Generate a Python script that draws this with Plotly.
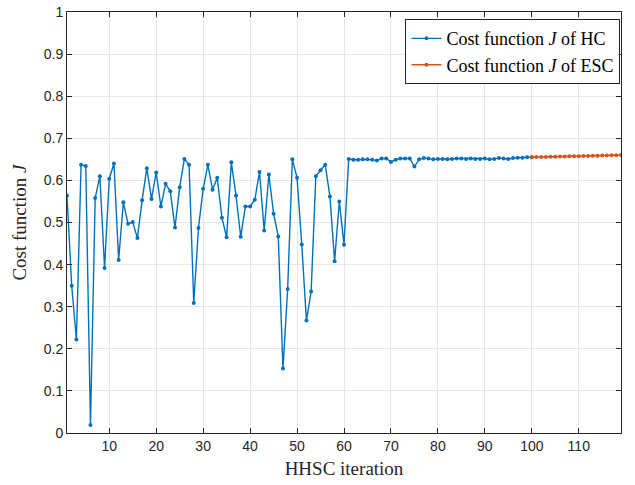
import plotly.graph_objects as go

# Hill-climbing (HC) cost per HHSC iteration
hc_iter = list(range(1, 101))
hc_cost = [
    0.564, 0.350, 0.222, 0.637, 0.634, 0.019, 0.558, 0.610, 0.392, 0.604,
    0.640, 0.411, 0.548, 0.497, 0.501, 0.463, 0.553, 0.629, 0.556, 0.619,
    0.538, 0.592, 0.574, 0.488, 0.584, 0.651, 0.637, 0.309, 0.487, 0.580,
    0.637, 0.578, 0.606, 0.511, 0.465, 0.643, 0.564, 0.466, 0.538, 0.538,
    0.554, 0.620, 0.481, 0.614, 0.521, 0.467, 0.153, 0.342, 0.650, 0.606,
    0.448, 0.267, 0.336, 0.610, 0.624, 0.637, 0.562, 0.408, 0.550, 0.447,
    0.651, 0.649, 0.649, 0.650, 0.650, 0.649, 0.647, 0.652, 0.652, 0.644,
    0.649, 0.652, 0.652, 0.652, 0.633, 0.650, 0.653, 0.652, 0.650, 0.651,
    0.651, 0.650, 0.651, 0.652, 0.652, 0.651, 0.652, 0.651, 0.651, 0.652,
    0.650, 0.651, 0.653, 0.652, 0.651, 0.653, 0.654, 0.654, 0.655, 0.655,
]

# Extremum-seeking control (ESC) cost, continuing from the last HC iteration
esc_iter = list(range(100, 120))
esc_cost = [
    0.6550, 0.6553, 0.6555, 0.6558, 0.6560, 0.6563, 0.6565, 0.6568, 0.6571, 0.6573,
    0.6576, 0.6579, 0.6582, 0.6585, 0.6588, 0.6591, 0.6594, 0.6597, 0.6600, 0.6603,
]

x_ticks = [10, 20, 30, 40, 50, 60, 70, 80, 90, 100, 110]
y_ticks = [0, 0.1, 0.2, 0.3, 0.4, 0.5, 0.6, 0.7, 0.8, 0.9, 1]

BLUE = "#0072BD"
ORANGE = "#D95319"
SERIF = "Liberation Serif, DejaVu Serif, serif"
SANS = "Liberation Sans, Arial, sans-serif"

fig = go.Figure()
fig.add_trace(go.Scatter(
    x=hc_iter, y=hc_cost, mode="lines+markers",
    name="Cost function <i>J</i> of HC",
    line=dict(color=BLUE, width=1.4),
    marker=dict(color=BLUE, size=4),
))
fig.add_trace(go.Scatter(
    x=esc_iter, y=esc_cost, mode="lines+markers",
    name="Cost function <i>J</i> of ESC",
    line=dict(color=ORANGE, width=1.4),
    marker=dict(color=ORANGE, size=4),
))

axis_common = dict(
    showline=True, linecolor="#262626", linewidth=1, mirror="ticks",
    ticks="inside", ticklen=5, tickcolor="#262626",
    showgrid=True, gridcolor="#e6e6e6", gridwidth=1,
    zeroline=False, automargin=False,
    tickfont=dict(family=SANS, size=14, color="#262626"),
)

fig.update_layout(
    width=635, height=485,
    margin=dict(l=67, r=14, t=12, b=52),
    paper_bgcolor="white", plot_bgcolor="white",
    xaxis=dict(range=[1, 119], tickvals=x_ticks,
               title=dict(text="HHSC iteration", font=dict(family=SERIF, size=19, color="#262626"), standoff=8),
               **axis_common),
    yaxis=dict(range=[0, 1], tickvals=y_ticks,
               title=dict(text="Cost function <i>J</i>", font=dict(family=SERIF, size=19, color="#262626"), standoff=12),
               **axis_common),
    legend=dict(x=0.999, y=0.983, xanchor="right", yanchor="top",
                bgcolor="white", bordercolor="#262626", borderwidth=1,
                font=dict(family=SERIF, size=18, color="#000000"),
                tracegroupgap=0, itemwidth=30),
    showlegend=True,
)

fig.write_html("out.html")
